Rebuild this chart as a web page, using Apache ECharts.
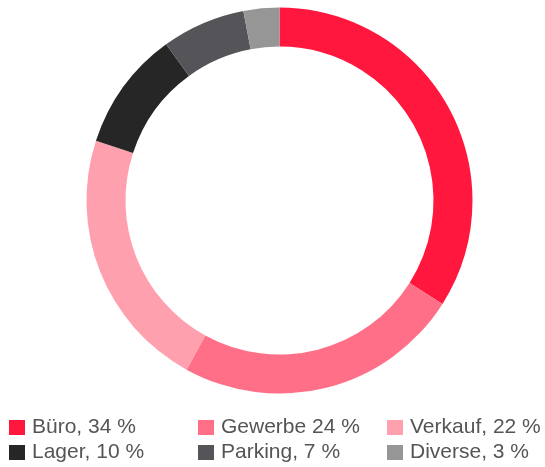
<!DOCTYPE html>
<html>
<head>
<meta charset="utf-8">
<script src="https://cdn.jsdelivr.net/npm/echarts@6/dist/echarts.min.js"></script>
<style>
  html, body { margin: 0; padding: 0; background: #fff; }
  #chart { width: 545px; height: 467px; }
</style>
</head>
<body>
<div id="chart"></div>
<script>
const categories = ['Büro', 'Gewerbe', 'Verkauf', 'Lager', 'Parking', 'Diverse'];
const values = [34, 24, 22, 10, 7, 3];
const legend_labels = ['Büro, 34 %', 'Gewerbe 24 %', 'Verkauf, 22 %', 'Lager, 10 %', 'Parking, 7 %', 'Diverse, 3 %'];
const colors = ['#ff173d', '#ff7088', '#ffa0ae', '#262626', '#555559', '#969696'];

const chart = echarts.init(document.getElementById('chart'));

const legend_base = {
  orient: 'vertical',
  top: 417,
  height: 60,
  padding: 0,
  itemWidth: 16,
  itemHeight: 15,
  itemGap: 4,
  icon: 'rect',
  selectedMode: false,
  textStyle: {
    fontFamily: 'Liberation Sans',
    fontSize: 21,
    lineHeight: 21,
    color: '#555555',
    padding: [0, 0, 0, 2]
  },
  formatter: name => legend_labels[categories.indexOf(name)]
};

chart.setOption({
  animation: false,
  color: colors,
  legend: [
    { ...legend_base, left: 9, data: [categories[0], categories[3]] },
    { ...legend_base, left: 198, data: [categories[1], categories[4]] },
    { ...legend_base, left: 387, data: [categories[2], categories[5]] }
  ],
  series: [{
    type: 'pie',
    center: [279.5, 200.5],
    radius: [154, 193],
    startAngle: 90,
    clockwise: true,
    label: { show: false },
    labelLine: { show: false },
    emphasis: { disabled: true },
    data: categories.map((c, i) => ({ name: c, value: values[i] }))
  }]
});
</script>
</body>
</html>
